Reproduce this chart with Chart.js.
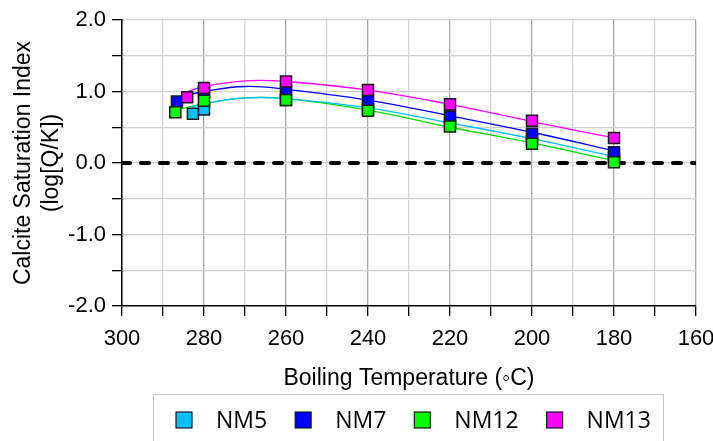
<!DOCTYPE html>
<html lang="en">
<head>
    <meta charset="UTF-8">
    <title>Calcite Saturation Index</title>
    <script src="https://cdn.jsdelivr.net/npm/chart.js"></script>
    <style>
        body {
            margin: 0;
            background-color: #ffffff;
        }
        canvas {
            display: block;
        }
    </style>
</head>
<body>
    <canvas id="siChart" width="713" height="441"></canvas>

    <script>
        // sample names (legend order)
        const seriesNames = ['NM5', 'NM7', 'NM12', 'NM13'];

        // measured points: boiling temperature (°C) and saturation index
        const tempNM5 = [282.7, 280, 260, 240, 220, 200, 180];
        const siNM5 = [0.69, 0.75, 0.88, 0.76, 0.55, 0.32, 0.07];
        const tempNM7 = [286.6, 280, 260, 240, 220, 200, 180];
        const siNM7 = [0.86, 0.99, 1.01, 0.87, 0.65, 0.41, 0.15];
        const tempNM12 = [287, 280, 260, 240, 220, 200, 180];
        const siNM12 = [0.71, 0.87, 0.88, 0.73, 0.51, 0.27, 0.01];
        const tempNM13 = [284.1, 280, 260, 240, 220, 200, 180];
        const siNM13 = [0.92, 1.05, 1.14, 1.02, 0.82, 0.59, 0.35];

        // fitted trend curves
        const fitTempNM5 = [283, 280, 270, 260, 240, 220, 200, 180];
        const fitSiNM5 = [0.78, 0.83, 0.91, 0.90, 0.77, 0.56, 0.34, 0.09];
        const fitTempNM7 = [286, 280, 270, 260, 240, 220, 200, 180];
        const fitSiNM7 = [0.92, 1.00, 1.07, 1.03, 0.88, 0.66, 0.43, 0.17];
        const fitTempNM12 = [286, 280, 270, 260, 240, 220, 200, 180];
        const fitSiNM12 = [0.75, 0.83, 0.91, 0.90, 0.74, 0.50, 0.28, 0.03];
        const fitTempNM13 = [284, 280, 270, 260, 240, 220, 200, 180];
        const fitSiNM13 = [1.00, 1.07, 1.15, 1.14, 1.02, 0.82, 0.58, 0.35];

        // equilibrium reference line (SI = 0)
        const zeroTemp = [300, 160];
        const zeroSi = [0, 0];

        const markerColors = ['#00bfff', '#0000ff', '#00ff00', '#ff00ff'];
        const lineColors = ['#00bfff', '#0000ff', '#00e000', '#ff00ff'];

        const toPoints = (xs, ys) => xs.map((x, i) => ({ x: x, y: ys[i] }));

        const pointSets = [
            toPoints(tempNM5, siNM5),
            toPoints(tempNM7, siNM7),
            toPoints(tempNM12, siNM12),
            toPoints(tempNM13, siNM13)
        ];
        const fitSets = [
            toPoints(fitTempNM5, fitSiNM5),
            toPoints(fitTempNM7, fitSiNM7),
            toPoints(fitTempNM12, fitSiNM12),
            toPoints(fitTempNM13, fitSiNM13)
        ];
        // magenta on top, then green, blue, cyan
        const markerOrder = [4, 3, 2, 1];

        const datasets = [];
        fitSets.forEach((pts, i) => {
            datasets.push({
                label: seriesNames[i] + ' fit',
                data: pts,
                showLine: true,
                borderColor: lineColors[i],
                borderWidth: 1.3,
                pointRadius: 0,
                tension: 0.4,
                order: 10 + i
            });
        });
        datasets.push({
            label: 'SI = 0',
            data: toPoints(zeroTemp, zeroSi),
            showLine: true,
            borderColor: '#000000',
            borderWidth: 4,
            borderDash: [8, 11],
            borderCapStyle: 'round',
            pointRadius: 0,
            order: 9
        });
        pointSets.forEach((pts, i) => {
            datasets.push({
                label: seriesNames[i],
                data: pts,
                showLine: false,
                pointStyle: 'rect',
                pointRadius: 7.8,
                backgroundColor: markerColors[i],
                pointBorderColor: '#1a1a1a',
                pointBorderWidth: 1.5,
                order: markerOrder[i]
            });
        });

        // legend in a thin grey frame below the axis title
        const boxedLegend = {
            id: 'boxedLegend',
            afterDraw(chart) {
                const c = chart.ctx;
                c.save();
                c.strokeStyle = '#c8c8c8';
                c.lineWidth = 1;
                c.strokeRect(153.5, 394.5, 510, 60);
                c.font = '23px "Open Sans"';
                c.textBaseline = 'middle';
                let x = 176;
                seriesNames.forEach((name, i) => {
                    c.fillStyle = markerColors[i];
                    c.fillRect(x, 412, 16, 16);
                    c.strokeStyle = '#1a1a1a';
                    c.lineWidth = 1.2;
                    c.strokeRect(x, 412, 16, 16);
                    x += 40;
                    c.fillStyle = '#000000';
                    c.fillText(name, x, 421);
                    x += c.measureText(name).width + 28;
                });
                c.restore();
            }
        };

        const tickFont = { family: '"Liberation Sans", Arial, sans-serif', size: 22 };
        const titleFont = { family: '"Liberation Sans", Arial, sans-serif', size: 23, lineHeight: 1.25 };

        new Chart(document.getElementById('siChart').getContext('2d'), {
            type: 'scatter',
            data: { datasets: datasets },
            plugins: [boxedLegend],
            options: {
                responsive: false,
                animation: false,
                devicePixelRatio: 1,
                events: [],
                layout: { padding: { top: 20, right: 17, left: 0, bottom: 0 } },
                plugins: {
                    legend: { display: false },
                    tooltip: { enabled: false }
                },
                scales: {
                    x: {
                        type: 'linear',
                        reverse: true,
                        min: 160,
                        max: 300,
                        afterFit: (s) => {
                            s.height = 135;
                            s.paddingLeft = 0;
                            s.paddingRight = 0;
                        },
                        ticks: {
                            stepSize: 10,
                            color: '#000000',
                            font: tickFont,
                            padding: 10,
                            maxRotation: 0,
                            autoSkip: false,
                            callback: (v) => (v % 20 === 0 ? v : '')
                        },
                        grid: {
                            color: (ctx) => (ctx.tick && ctx.tick.value % 20 === 0 ? '#a8a8a8' : '#d6d6d6'),
                            lineWidth: 1.3,
                            tickColor: '#000000',
                            tickLength: 10
                        },
                        border: { color: '#000000', width: 1.5 },
                        title: {
                            display: true,
                            text: 'Boiling Temperature (◦C)',
                            color: '#000000',
                            font: titleFont,
                            padding: { top: 0, bottom: 48 }
                        }
                    },
                    y: {
                        min: -2,
                        max: 2,
                        afterFit: (s) => { s.width = 122; },
                        ticks: {
                            stepSize: 0.5,
                            color: '#000000',
                            font: tickFont,
                            padding: 6,
                            autoSkip: false,
                            callback: (v) => (v % 1 === 0 ? v.toFixed(1) : '')
                        },
                        grid: {
                            color: '#cfcfcf',
                            lineWidth: 1.3,
                            tickColor: '#000000',
                            tickLength: 10
                        },
                        border: { color: '#000000', width: 1.5 },
                        title: {
                            display: true,
                            text: ['Calcite Saturation Index', '(log[Q/K])'],
                            color: '#000000',
                            font: titleFont,
                            padding: { top: 9, bottom: 0 }
                        }
                    }
                }
            }
        });
    </script>
</body>
</html>
